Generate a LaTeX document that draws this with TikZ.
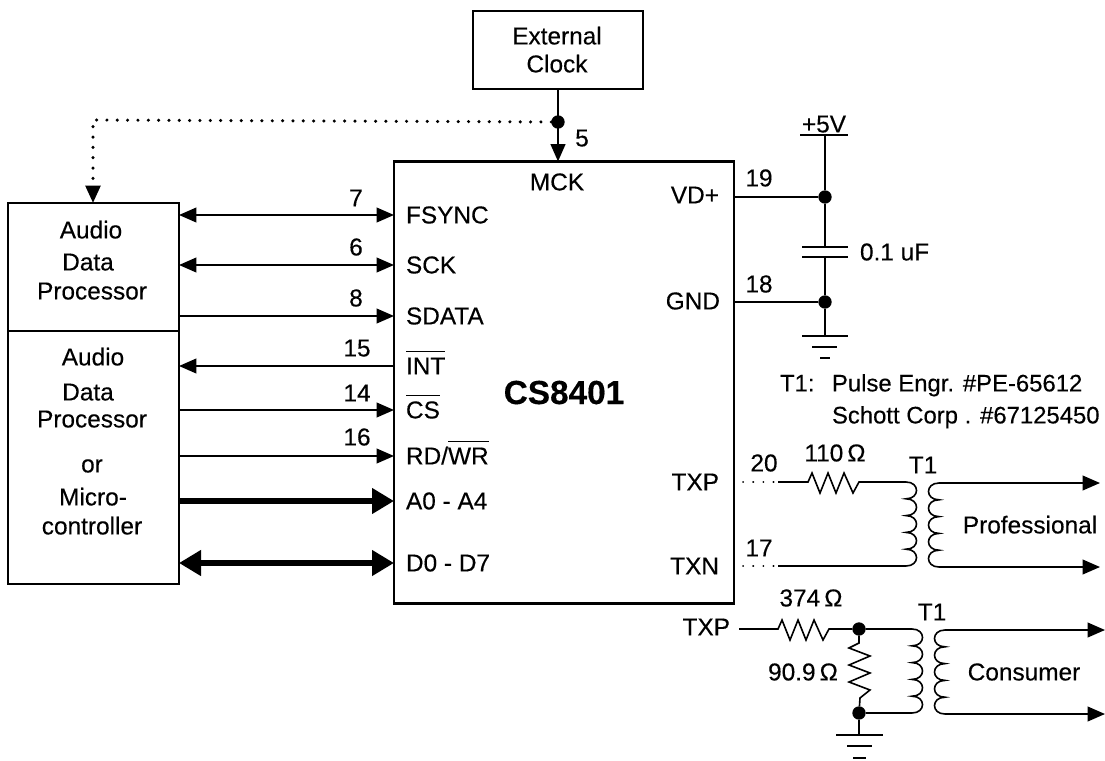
\documentclass[tikz,border=0pt]{standalone}
\usepackage{fontspec}
\setmainfont[FakeBold=0.3]{Liberation Sans}
\usetikzlibrary{arrows.meta,calc}
\tikzset{
  lab/.style={inner sep=0pt,outer sep=0pt,text height=12.6pt,text depth=0pt,font=\fontsize{18.3pt}{20pt}\selectfont},
  note/.style={lab,anchor=west,font=\fontsize{17.9pt}{20pt}\selectfont},
  pin/.style={lab,anchor=west},
  num/.style={lab},
  boxx/.style={draw,line width=1.6pt,inner sep=0pt,outer sep=0pt},
  sig/.style={line width=1.3pt},
  tipone/.style={-{Triangle[length=13pt,width=11pt]}},
  tiptwo/.style={{Triangle[length=13pt,width=11pt]}-{Triangle[length=13pt,width=11pt]}},
  tipback/.style={{Triangle[length=13pt,width=11pt]}-},
  busone/.style={line width=4pt,-{Triangle[length=16.5pt,width=18.5pt]}},
  bustwo/.style={line width=4pt,{Triangle[length=16.5pt,width=18.5pt]}-{Triangle[length=16.5pt,width=18.5pt]}},
  wire/.style={line width=1.2pt,line join=miter},
  stub/.style={line width=1.5pt,line cap=round,dash pattern=on 0.1pt off 7.5pt},
  dots/.style={line width=2.5pt,line cap=round,dash pattern=on 0.1pt off 7.65pt},
  joint/.style={circle,fill=black,draw=none,minimum size=10pt,inner sep=0pt,outer sep=0pt},
  bar/.style={line width=1.5pt}
}
\newcommand\ovl[1]{$\overline{\rule{0pt}{16pt}\smash{\mbox{#1}}}$}
\newcommand\humpset[1]{.. controls +(#1,0) and +(#1,0) .. ++(0,16.8)
  .. controls +(#1,0) and +(#1,0) .. ++(0,16.8)
  .. controls +(#1,0) and +(#1,0) .. ++(0,16.8)
  .. controls +(#1,0) and +(#1,0) .. ++(0,16.8)
  .. controls +(#1,0) and +(#1,0) .. ++(0,16.8)}
\newcommand\zigh{-- ++(4,-9) -- ++(8,20) -- ++(8,-20) -- ++(8,20) -- ++(8,-20) -- ++(9,20) -- ++(6,-11)}
\newcommand\zigv{-- ++(-10,5) -- ++(21,8) -- ++(-21,9) -- ++(21,8) -- ++(-21,9) -- ++(21,8) -- ++(-10,8)}
\begin{document}
\begin{tikzpicture}[x=0.75pt,y=-0.75pt]
\useasboundingbox (0,0) rectangle (1105,760);
% boxes
\node[boxx,minimum width=127.5pt,minimum height=58.5pt] (clock) at (558,50) {};
\node[boxx,minimum width=255pt,minimum height=331.5pt] (chip) at (564,382.5) {};
\node[boxx,minimum width=128.25pt,minimum height=285.75pt] (left) at (93.5,393.5) {};
\coordinate (divy) at (0,330.5);
\draw[line width=1.5pt] (left.west |- divy) -- (left.east |- divy);
% clock texts
\node[lab] (tclock1) at (557,36) {External};
\node[lab] (tclock2) at (557,64) {Clock};
% left texts
\node[lab] (a1) at (91,230) {Audio};
\node[lab] (a2) at (88,262) {Data};
\node[lab] (a3) at (92,291) {Processor};
\node[lab] (b1) at (93,357) {Audio};
\node[lab] (b2) at (88,392) {Data};
\node[lab] (b3) at (92,419) {Processor};
\node[lab] (b4) at (92,464) {or};
\node[lab] (b5) at (93,497) {Micro-};
\node[lab] (b6) at (92,526) {controller};
% pins
\node[pin] (fsync) at (406,215) {FSYNC};
\node[pin] (sck) at (406,265) {SCK};
\node[pin] (sdata) at (406,316) {SDATA};
\node[pin] (int) at (406,366) {\ovl{INT}};
\node[pin] (cs) at (406,410) {\ovl{CS}};
\node[pin] (rd) at (406,456) {RD/\ovl{WR}};
\node[pin] (addr) at (406,501) {A0 - A4};
\node[pin] (data) at (406,563) {D0 - D7};
\node[lab] (mck) at (557,182) {MCK};
\node[lab,anchor=east] (vd) at (719,195) {VD+};
\node[lab,anchor=east] (gnd) at (720,301) {GND};
\node[lab,anchor=east] (txp) at (719,482) {TXP};
\node[lab,anchor=east] (txn) at (719,566) {TXN};
\node[lab,font=\bfseries\fontsize{25pt}{28pt}\selectfont,text height=18pt] (cs84) at (564,392) {CS8401};
% pin numbers
\node[num] (n7) at (356,198) {7};
\node[num] (n6) at (356,247) {6};
\node[num] (n8) at (356,298) {8};
\node[num] (n15) at (357,348) {15};
\node[num] (n14) at (357,393) {14};
\node[num] (n16) at (357,437) {16};
\node[num] (n5) at (582,138) {5};
\node[num] (n19) at (759,178) {19};
\node[num] (n18) at (759,284) {18};
\node[num] (n20) at (764,463) {20};
\node[num] (n17) at (759,548) {17};
% left connectors
\draw[sig,tiptwo] (left.east |- fsync) -- (chip.west |- fsync);
\draw[sig,tiptwo] (left.east |- sck) -- (chip.west |- sck);
\draw[sig,tipone] (left.east |- sdata) -- (chip.west |- sdata);
\draw[sig,tipback] (left.east |- int) -- (chip.west |- int);
\draw[sig,tipone] (left.east |- cs) -- (chip.west |- cs);
\draw[sig,tipone] (left.east |- rd) -- (chip.west |- rd);
\draw[busone] (left.east |- addr) -- (chip.west |- addr);
\draw[bustwo] (left.east |- data) -- (chip.west |- data);
% clock
\draw[line width=1.5pt,tipone] (clock.south) -- (clock.south |- chip.north);
\node[joint] (cj) at (558,122) {};
\coordinate (dk) at (93,120);
\draw[dots,-{Triangle[length=13pt,width=11pt]}] (cj) -- (dk) -- (left.north -| dk);
% power
\node[joint] (j1) at (825,197) {};
\node[joint] (j2) at (825,302) {};
\coordinate (plus) at (825,135);
\coordinate (cap1) at (825,247);
\coordinate (cap2) at (825,257);
\coordinate (gnd1) at (825,336);
\draw[wire] (chip.east |- j1) -- (j1);
\draw[wire] (chip.east |- j2) -- (j2);
\draw[wire] (plus) -- (j1) -- (cap1);
\draw[wire] (cap2) -- (j2) -- (gnd1);
\draw[bar] ($(plus)+(-25,0)$) -- ($(plus)+(23,0)$);
\draw[bar] ($(cap1)+(-23,0)$) -- ($(cap1)+(23,0)$);
\draw[bar] ($(cap2)+(-23,0)$) -- ($(cap2)+(23,0)$);
\draw[bar] ($(gnd1)+(-23,0)$) -- ($(gnd1)+(23,0)$);
\draw[bar] ($(gnd1)+(-13,11)$) -- ($(gnd1)+(12,11)$);
\draw[bar,line width=2pt] ($(gnd1)+(-5,22)$) -- ($(gnd1)+(5,22)$);
\node[lab] (plusv) at (824,124) {+5V};
\node[lab,anchor=west] (capv) at (860,252) {0.1 uF};
\node[note] (t1a) at (780,383) {T1:};
\node[note] (t1b) at (832,383) {Pulse Engr. \#PE-65612};
\node[note] (t1c) at (832,415) {Schott Corp . \#67125450};
% professional output
\coordinate (s20) at (743,482);
\coordinate (m20) at (778,482);
\coordinate (r20) at (808,482);
\coordinate (s17) at (743,566);
\coordinate (m17) at (778,566);
\coordinate (p1a) at (906,482);
\coordinate (p1b) at (906,566);
\coordinate (q1a) at (939,483);
\coordinate (q1b) at (939,567);
\coordinate (o1a) at (1100,483);
\coordinate (o1b) at (1100,567);
\draw[stub] (s20) -- (m20);
\draw[stub] (s17) -- (m17);
\draw[wire] (m20) -- (r20) \zigh -- (p1a) \humpset{14};
\draw[wire] (m17) -- (p1b);
\draw[wire] (q1a) \humpset{-14};
\draw[sig,tipone] (q1a) -- (o1a);
\draw[sig,tipone] (q1b) -- (o1b);
\node[num] (r110) at (835,453) {110\,Ω};
\node[num] (t11) at (923,465) {T1};
\node[lab] (prof) at (1030,525) {Professional};
% consumer output
\node[lab,anchor=east] (txp2) at (730,627) {TXP};
\node[joint] (j3) at (859,629) {};
\node[joint] (j4) at (859,713) {};
\coordinate (tx2) at (739,629);
\coordinate (r374) at (778,629);
\coordinate (p2a) at (912,629);
\coordinate (p2b) at (912,713);
\coordinate (q2a) at (945,630);
\coordinate (q2b) at (945,714);
\coordinate (o2a) at (1105,630);
\coordinate (o2b) at (1105,714);
\coordinate (gnd2) at (859,735);
\coordinate (rv) at (859,643);
\draw[wire] (tx2) -- (r374) \zigh -- (j3);
\draw[wire] (j3) -- (rv) \zigv -- (j4);
\draw[wire] (j3) -- (p2a) \humpset{14};
\draw[wire] (j4) -- (p2b);
\draw[wire] (q2a) \humpset{-14};
\draw[sig,tipone] (q2a) -- (o2a);
\draw[sig,tipone] (q2b) -- (o2b);
\draw[wire] (j4) -- (gnd2);
\draw[bar] ($(gnd2)+(-23,0)$) -- ($(gnd2)+(24,0)$);
\draw[bar] ($(gnd2)+(-12,11)$) -- ($(gnd2)+(13,11)$);
\draw[bar,line width=2pt] ($(gnd2)+(-6,23)$) -- ($(gnd2)+(7,23)$);
\node[num] (r374t) at (811,598) {374\,Ω};
\node[num] (r909t) at (803,672) {90.9\,Ω};
\node[num] (t12) at (932,612) {T1};
\node[lab] (cons) at (1024,672) {Consumer};
\end{tikzpicture}
\end{document}
